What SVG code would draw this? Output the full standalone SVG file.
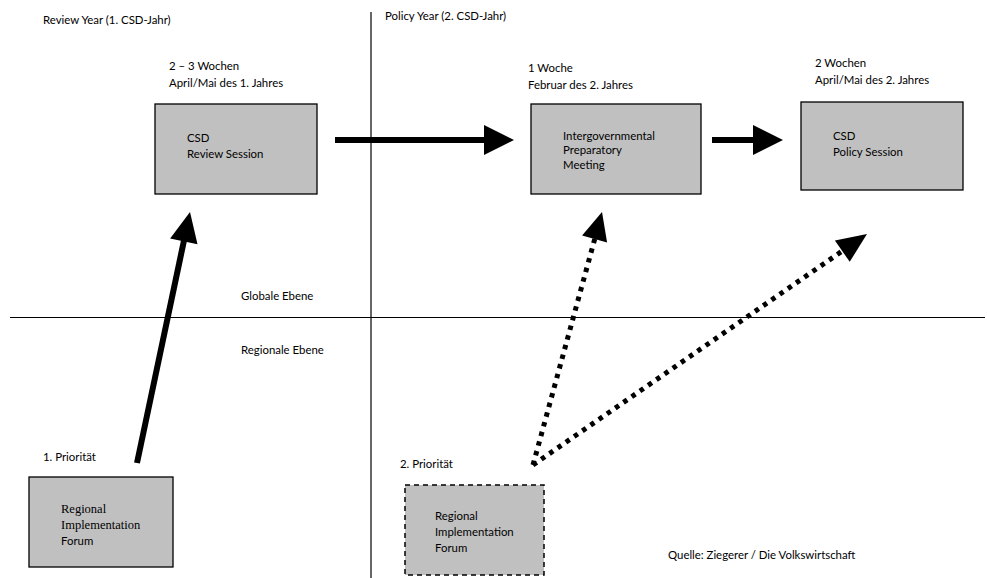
<svg xmlns="http://www.w3.org/2000/svg" width="987" height="578" viewBox="0 0 987 578">
<style>
.t{font-family:Lato,"Liberation Sans",sans-serif;font-size:11.4px;fill:#000}
.s{font-family:"Liberation Serif",serif;font-size:12.5px;fill:#000}
.box{fill:#c0c0c0;stroke:#000;stroke-width:1.3}
.dbox{fill:#c0c0c0;stroke:#000;stroke-width:1.5;stroke-dasharray:5 4}
.axis{stroke:#000;stroke-width:1.2;fill:none}
.shaft{stroke:#000;stroke-width:6;fill:none}
.dot{stroke:#000;stroke-width:5;fill:none;stroke-dasharray:4.5 5.5}
.head{fill:#000}
</style>
<defs>
<clipPath id="ipmclip"><rect x="531" y="104" width="171" height="67.5"/></clipPath>
</defs>
<g id="axes">
<line class="axis" x1="371" y1="12" x2="371" y2="578"/>
<line class="axis" x1="10" y1="317.5" x2="985" y2="317.5"/>
</g>
<g id="labels">
<text class="t" x="43" y="24">Review Year (1. CSD-Jahr)</text>
<text class="t" x="385" y="20">Policy Year (2. CSD-Jahr)</text>
<text class="t" x="241" y="300">Globale Ebene</text>
<text class="t" x="241" y="354">Regionale Ebene</text>
<text class="t" x="43" y="461">1. Priorität</text>
<text class="t" x="400" y="468">2. Priorität</text>
<text class="t" x="668" y="559">Quelle: Ziegerer / Die Volkswirtschaft</text>
</g>
<g id="review-session">
<text class="t" x="169" y="70">2 – 3 Wochen</text>
<text class="t" x="169" y="87">April/Mai des 1. Jahres</text>
<rect class="box" x="155" y="104" width="162" height="90"/>
<text class="t" x="187" y="142">CSD</text>
<text class="t" x="187" y="158">Review Session</text>
</g>
<g id="ipm">
<text class="t" x="528" y="72">1 Woche</text>
<text class="t" x="528" y="89">Februar des 2. Jahres</text>
<rect class="box" x="531" y="104" width="170" height="90"/>
<g clip-path="url(#ipmclip)">
<text class="t" x="563" y="140">Intergovernmental</text>
<text class="t" x="563" y="154">Preparatory</text>
<text class="t" x="563" y="168.5">Meeting</text>
</g>
</g>
<g id="policy-session">
<text class="t" x="815" y="67">2 Wochen</text>
<text class="t" x="815" y="84">April/Mai des 2. Jahres</text>
<rect class="box" x="801" y="102" width="162" height="88"/>
<text class="t" x="833" y="140">CSD</text>
<text class="t" x="833" y="156">Policy Session</text>
</g>
<g id="rif-1">
<rect class="box" x="29" y="477" width="144" height="90"/>
<text class="s" x="61" y="513">Regional</text>
<text class="s" x="61" y="529">Implementation</text>
<text class="t" x="61" y="545">Forum</text>
</g>
<g id="rif-2">
<rect class="dbox" x="405" y="485" width="139" height="90"/>
<text class="t" x="435" y="520">Regional</text>
<text class="t" x="435" y="536">Implementation</text>
<text class="t" x="435" y="552">Forum</text>
</g>
<g id="connectors">
<line class="shaft" x1="335" y1="140" x2="486" y2="140"/>
<polygon class="head" points="514,140 484,125 484,155"/>
<line class="shaft" x1="712" y1="140" x2="755" y2="140"/>
<polygon class="head" points="783,140 753,125 753,155"/>
<line class="shaft" x1="137" y1="463" x2="184.2" y2="239.5"/>
<polygon class="head" points="190,212 197.5,244.2 170.1,238.4"/>
<line class="dot" x1="533" y1="465" x2="595" y2="238"/>
<polygon class="head" points="602,212 607.1,242.4 582.1,235.6"/>
<line class="dot" x1="533" y1="465" x2="843" y2="250.5"/>
<polygon class="head" points="867,234 849.7,261.8 834.9,240.4"/>
</g>
</svg>
